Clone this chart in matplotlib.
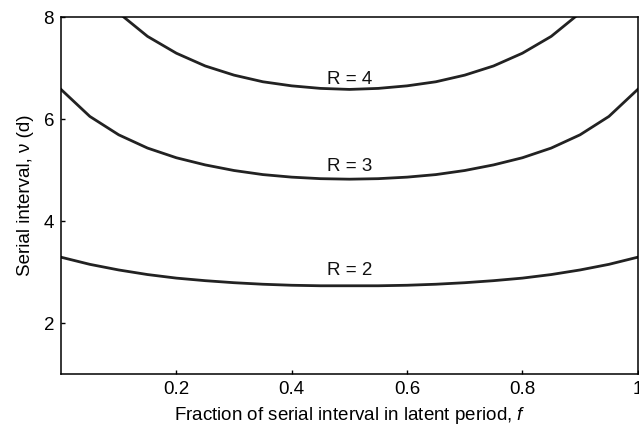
import matplotlib
matplotlib.use("Agg")
import matplotlib.pyplot as plt

plt.rcParams['font.family'] = ['Liberation Sans', 'DejaVu Sans']
plt.rcParams['mathtext.fontset'] = 'custom'
plt.rcParams['mathtext.it'] = 'Liberation Sans:italic'
plt.rcParams['mathtext.rm'] = 'Liberation Sans'

# fraction of serial interval in latent period
f = [0.0, 0.05, 0.1, 0.15, 0.2, 0.25, 0.3, 0.35, 0.4, 0.45, 0.5,
     0.55, 0.6, 0.65, 0.7, 0.75, 0.8, 0.85, 0.9, 0.95, 1.0]

# serial interval (d)
v_r2 = [3.29, 3.15, 3.04, 2.95, 2.88, 2.83, 2.79, 2.76, 2.74, 2.73, 2.73,
        2.73, 2.74, 2.76, 2.79, 2.83, 2.88, 2.95, 3.04, 3.15, 3.29]
v_r3 = [6.58, 6.05, 5.69, 5.43, 5.24, 5.10, 4.99, 4.91, 4.86, 4.83, 4.82,
        4.83, 4.86, 4.91, 4.99, 5.10, 5.24, 5.43, 5.69, 6.05, 6.58]
v_r4 = [9.87, 8.76, 8.08, 7.62, 7.29, 7.04, 6.86, 6.73, 6.65, 6.60, 6.58,
        6.60, 6.65, 6.73, 6.86, 7.04, 7.29, 7.62, 8.08, 8.76, 9.87]

labels = ['R = 2', 'R = 3', 'R = 4']
label_y = [3.02, 5.06, 6.78]

fig = plt.figure(figsize=(6.39, 4.25), dpi=100)
ax = fig.add_axes([0.0955, 0.12, 0.9025, 0.84])

for v in (v_r2, v_r3, v_r4):
    ax.plot(f, v, color='#222222', lw=2.0, solid_joinstyle='round')

for lab, yy in zip(labels, label_y):
    ax.text(0.5, yy, lab, ha='center', va='center', fontsize=13.5, color='#111111')

ax.set_xlim(0, 1)
ax.set_ylim(1, 8)
ax.set_xticks([0.2, 0.4, 0.6, 0.8, 1.0])
ax.set_xticklabels(['0.2', '0.4', '0.6', '0.8', '1'])
ax.set_yticks([2, 4, 6, 8])
ax.tick_params(direction='in', length=3, width=1, labelsize=13.5, pad=5)
for s in ax.spines.values():
    s.set_linewidth(1.1)

ax.set_xlabel('Fraction of serial interval in latent period, $f$', fontsize=13.5, labelpad=5)
ax.set_ylabel('Serial interval, ν (d)', fontsize=13.5, labelpad=7)

fig.savefig('out.png', dpi=100)
